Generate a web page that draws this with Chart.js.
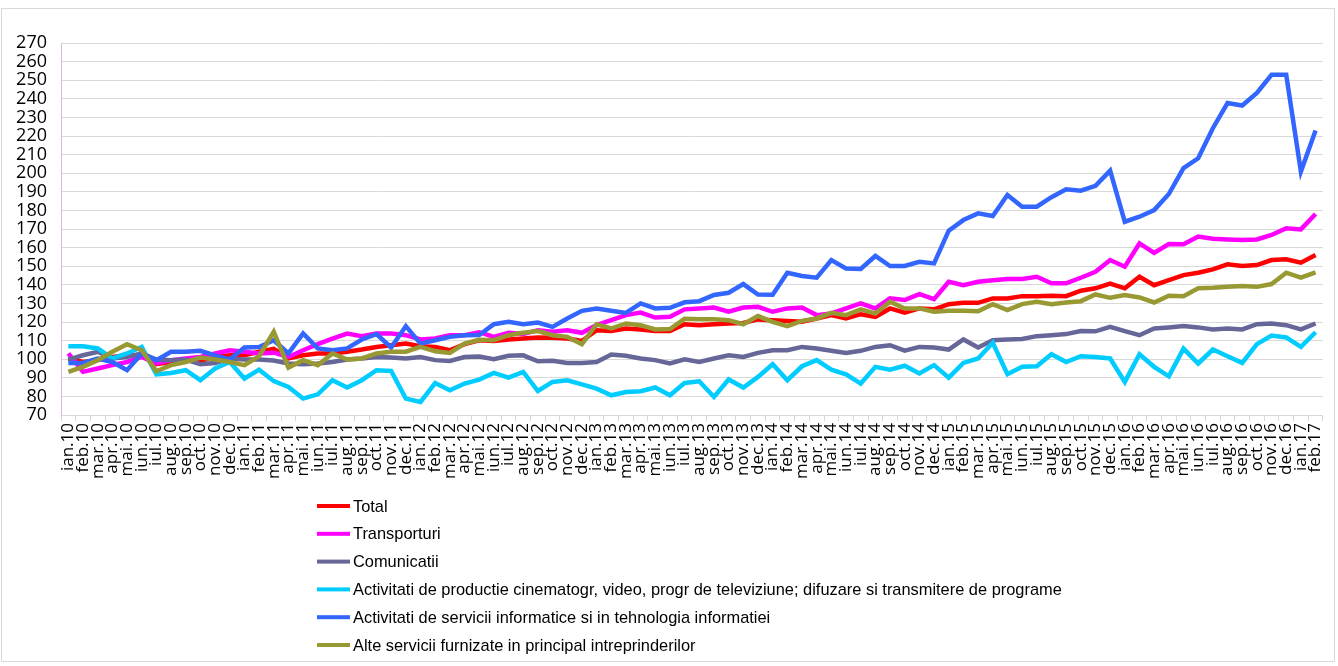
<!DOCTYPE html>
<html>
<head>
<meta charset="utf-8">
<script src="https://cdn.jsdelivr.net/npm/chart.js@4.4.1/dist/chart.umd.min.js"></script>
<style>
  html, body { margin: 0; padding: 0; background: #fff; }
  #wrap { position: relative; width: 1338px; height: 666px; }
  #frame { position: absolute; left: 1px; top: 8px; width: 1334px; height: 654px; border: 1px solid #d9d9d9; box-sizing: border-box; pointer-events: none; }
</style>
</head>
<body>
<div id="wrap">
  <canvas id="indici-chart" width="1338" height="666"></canvas>
  <div id="frame"></div>
</div>
<script>
// monthly labels ian.10 .. feb.17
const months = ['ian', 'feb', 'mar', 'apr', 'mai', 'iun', 'iul', 'aug', 'sep', 'oct', 'nov', 'dec'];
const years = ['10', '11', '12', '13', '14', '15', '16', '17'];
const labels = [];
years.forEach(y => months.forEach(m => labels.push(m + '.' + y)));
labels.length = 86;

const total = [100.4, 98.5, 99.5, 101.2, 102.1, 102.1, 97.3, 98.5, 99.5, 99.1, 101.2, 102.1,
  102.1, 104, 105.5, 100.4, 102.1, 103.1, 103.1, 104, 105.2, 106.6, 107.5, 108.4,
  107, 106.6, 104.8, 108.1, 110.2, 109.8, 110.6, 111.1, 111.7, 111.5, 111.1, 109.8,
  115.6, 115.2, 116.5, 116, 115.1, 115.2, 118.8, 118.3, 118.8, 119.2, 119.5, 121.4,
  121, 120.6, 120.1, 121.9, 123.7, 121.9, 124.2, 122.8, 127.3, 125, 127.3, 126.8,
  129.6, 130.3, 130.3, 132.7, 132.7, 133.9, 133.9, 134.1, 133.9, 136.8, 138.1, 140.6,
  138.1, 144.3, 139.8, 142.5, 145.2, 146.5, 148.3, 151, 150.1, 150.6, 153.3, 153.7,
  151.9, 156];

const transporturi = [103.1, 93.2, 95, 96.8, 98.5, 101.2, 97.7, 99.5, 100.4, 101.2, 103.1, 104.8,
  104, 103.1, 103.5, 101.2, 104.8, 108.1, 111.1, 113.8, 112.4, 113.8, 113.8, 112.9,
  110.6, 111.1, 112.9, 112.9, 114.5, 112, 114.2, 113.5, 115.6, 114.7, 115.6, 114.2,
  118.3, 121, 123.7, 125.1, 122.4, 122.8, 126.8, 127.3, 127.8, 125.5, 127.8, 128.2,
  125.5, 127.3, 127.8, 123.7, 124.6, 127.3, 130, 127.3, 132.7, 131.8, 135, 132.3,
  141.6, 139.8, 141.6, 142.5, 143.1, 143.1, 144.3, 140.8, 140.8, 143.8, 147, 153.3,
  149.7, 162.3, 157.2, 161.9, 161.8, 165.9, 164.8, 164.4, 164.1, 164.4, 166.8, 170.4,
  169.8, 178.1];

const comunicatii = [99.8, 102.1, 104, 100.4, 101.2, 103.1, 99.8, 99.5, 99.8, 97.3, 98, 100.4,
  99.8, 99.8, 99.3, 97.7, 97.3, 97.7, 98.5, 99.8, 100.4, 101.2, 100.9, 100.4,
  101.2, 99.5, 99.1, 101.2, 101.4, 100, 101.8, 102.1, 98.9, 99.1, 98, 98,
  98.5, 102.5, 101.8, 100.4, 99.5, 97.7, 99.9, 98.5, 100.4, 102.1, 101.2, 103.4,
  104.8, 104.8, 106.6, 105.7, 104.5, 103.4, 104.5, 106.6, 107.5, 104.6, 106.6, 106.3,
  105.2, 110.6, 106.3, 110.2, 110.6, 110.9, 112.4, 112.9, 113.5, 115.1, 115, 117.4,
  115.1, 112.9, 116.5, 117.1, 117.8, 117.1, 116, 116.5, 116, 118.8, 119.2, 118.3,
  116, 119.2];

const cinema = [107, 107, 105.8, 100.4, 103.1, 106.6, 91.9, 92.6, 94.1, 88.7, 95, 98.5,
  89.6, 94.4, 88.2, 85.1, 78.8, 81.1, 88.7, 84.8, 88.7, 94.1, 93.7, 78.8,
  77, 87.2, 83.3, 86.9, 89, 92.6, 90.1, 93.2, 82.9, 87.8, 88.7, 86.5,
  84.2, 80.6, 82.4, 82.8, 84.8, 80.6, 87.2, 88.1, 79.7, 89.1, 84.8, 90.5,
  97.3, 88.7, 96.2, 99.5, 94.4, 91.9, 86.9, 95.9, 94.4, 96.5, 92.3, 96.8,
  90.1, 98, 100.4, 108.8, 91.9, 95.9, 96.2, 102.7, 98.5, 101.6, 101.2, 100.4,
  87.8, 102.7, 95.9, 90.8, 105.7, 97.7, 105.2, 101.6, 98, 108.1, 112.7, 111.7,
  106.6, 114.5];

const informatice = [98, 98, 100.4, 98.5, 94.1, 103.1, 99.5, 104, 104, 104.5, 102.1, 99.8,
  106.3, 106.6, 110.2, 103.1, 113.8, 105.8, 104.8, 105.8, 110.6, 113.5, 106.3, 117.8,
  108.4, 110.2, 112, 112.9, 113, 118.8, 120.1, 118.8, 119.7, 117.4, 121.9, 126,
  127.3, 126, 124.9, 130, 127.3, 127.6, 130.6, 131.2, 134.5, 135.7, 140.4, 134.8,
  134.6, 146.5, 144.7, 143.8, 153.3, 148.8, 148.5, 155.5, 150.1, 150.1, 152.4, 151.5,
  169.1, 174.8, 178.4, 177, 188.3, 182, 182, 187.1, 191.4, 190.6, 193.2, 201.4,
  173.9, 176.6, 180.2, 188.8, 202.7, 208, 224.2, 237.7, 236.4, 243.1, 252.9, 252.9,
  200.9, 222.9];

const alteServicii = [93.2, 95.9, 99.5, 104, 108.1, 104.8, 93.5, 96.8, 98.5, 100.9, 99.8, 98.5,
  96.8, 101.6, 114.7, 95.5, 99.5, 96.8, 103.1, 99.8, 100.4, 103.1, 104, 104,
  106.6, 104.3, 103.4, 108.4, 110.4, 110.2, 112.9, 114.2, 115.1, 112.9, 112, 108.1,
  118.8, 116.5, 119.2, 118.3, 116, 116.2, 121.7, 121.5, 121.5, 121, 118.8, 123.2,
  120.1, 117.8, 120.6, 121.9, 124.9, 123.7, 126.8, 124.6, 130.9, 127.3, 127.3, 125.5,
  126, 126, 125.8, 129.6, 126.4, 129.6, 130.9, 129.6, 130.5, 131.2, 134.8, 133,
  134.5, 133.2, 130.5, 134.1, 133.9, 138.1, 138.4, 138.9, 139.3, 138.9, 140.4, 146.5,
  143.8, 146.7];

const seriesNames = ['Total', 'Transporturi', 'Comunicatii',
  'Activitati de productie cinematogr, video, progr de televiziune; difuzare si transmitere de programe',
  'Activitati de servicii informatice si in tehnologia informatiei',
  'Alte servicii furnizate in principal intreprinderilor'];
const seriesData = [total, transporturi, comunicatii, cinema, informatice, alteServicii];
const seriesColors = ['#ff0000', '#ff00ff', '#666699', '#00ccff', '#3366ff', '#999933'];

// vertical legend under the axis, one entry per row
const listLegend = {
  id: 'listLegend',
  afterDraw(chart) {
    const c = chart.ctx;
    c.save();
    c.font = '16.4px "Liberation Sans", sans-serif';
    c.textBaseline = 'middle';
    chart.data.datasets.forEach((ds, i) => {
      const y = 506 + i * 27.8;
      c.fillStyle = ds.borderColor;
      c.fillRect(317, y - 2, 33, 4);
      c.fillStyle = '#000';
      c.fillText(ds.label, 353, y + 1);
    });
    c.restore();
  }
};

const ctx = document.getElementById('indici-chart').getContext('2d');
new Chart(ctx, {
  type: 'line',
  data: {
    labels: labels,
    datasets: seriesData.map((d, i) => ({
      label: seriesNames[i],
      data: d,
      borderColor: seriesColors[i],
      backgroundColor: seriesColors[i],
      borderWidth: 4.5,
      pointRadius: 0,
      tension: 0,
      fill: false,
      order: 6 - i
    }))
  },
  options: {
    responsive: false,
    animation: false,
    layout: { padding: { top: 43, right: 6, left: 0, bottom: 0 } },
    plugins: { legend: { display: false }, tooltip: { enabled: false } },
    scales: {
      x: {
        offset: true,
        afterFit: s => { s.height = 251; },
        grid: { offset: true, drawOnChartArea: false, drawTicks: true, tickLength: 6, color: '#d9d9d9' },
        border: { color: '#d9d9d9' },
        ticks: {
          autoSkip: false, maxRotation: 90, minRotation: 90, padding: 2,
          color: '#000', font: { family: '"Open Sans", sans-serif', size: 17 }
        }
      },
      y: {
        min: 70, max: 270,
        afterFit: s => { s.width = 61; },
        grid: { color: '#d9d9d9', drawTicks: false },
        border: { color: '#d8b8dc' },
        ticks: {
          stepSize: 10, autoSkip: false, padding: 14,
          color: '#000', font: { family: '"Open Sans", sans-serif', size: 18 }
        }
      }
    }
  },
  plugins: [listLegend]
});
</script>
</body>
</html>
